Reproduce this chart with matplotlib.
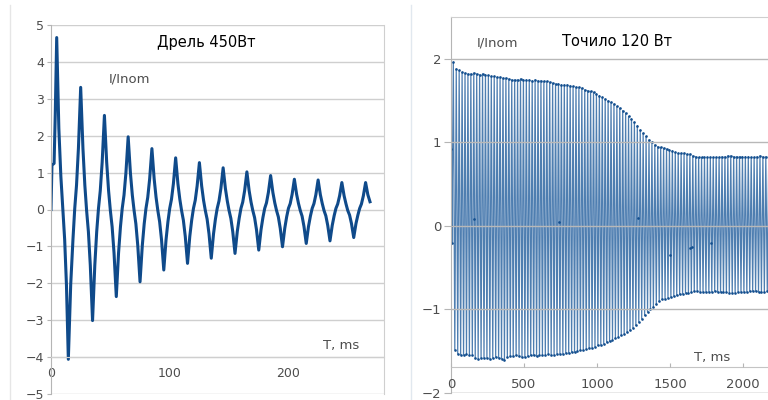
import numpy as np
import matplotlib
matplotlib.use("Agg")
import matplotlib.pyplot as plt
from matplotlib.lines import Line2D

# --- left chart: drill 450 W, I/Inom vs time (ms) ---
drill_t = [
    0.0, 0.8, 2.6, 3.6, 4.8, 6.6, 8.3, 10.0, 11.5, 13.0, 14.6, 16.6, 18.5,
    20.0, 21.5, 23.1, 25.0, 26.9, 28.5, 30.0, 31.5, 33.1, 35.0, 36.9, 38.5,
    40.0, 41.5, 43.1, 45.0, 46.9, 48.5, 50.0, 51.5, 53.1, 55.0, 56.9, 58.5,
    60.0, 61.5, 63.1, 65.0, 66.9, 68.5, 70.0, 71.5, 73.1, 75.0, 76.9, 78.5,
    80.0, 81.5, 83.1, 85.0, 86.9, 88.5, 90.0, 91.5, 93.1, 95.0, 96.9, 98.5,
    100.0, 101.5, 103.1, 105.0, 106.9, 108.5, 110.0, 111.5, 113.1, 115.0, 116.9, 118.5,
    120.0, 121.5, 123.1, 125.0, 126.9, 128.5, 130.0, 131.5, 133.1, 135.0, 136.9, 138.5,
    140.0, 141.5, 143.1, 145.0, 146.9, 148.5, 150.0, 151.5, 153.1, 155.0, 156.9, 158.5,
    160.0, 161.5, 163.1, 165.0, 166.9, 168.5, 170.0, 171.5, 173.1, 175.0, 176.9, 178.5,
    180.0, 181.5, 183.1, 185.0, 186.9, 188.5, 190.0, 191.5, 193.1, 195.0, 196.9, 198.5,
    200.0, 201.5, 203.1, 205.0, 206.9, 208.5, 210.0, 211.5, 213.1, 215.0, 216.9, 218.5,
    220.0, 221.5, 223.1, 225.0, 226.9, 228.5, 230.0, 231.5, 233.1, 235.0, 236.9, 238.5,
    240.0, 241.5, 243.1, 245.0, 246.9, 248.5, 250.0, 251.5, 253.1, 255.0, 256.9, 258.5,
    260.0, 261.5, 263.1, 265.0, 266.9, 268.7,
]
drill_i = [
    0.0, 1.2, 1.25, 2.6, 4.66, 2.2, 0.9, -0.03, -0.81, -2.03, -4.06, -2.03, -0.81,
    0.03, 0.66, 1.66, 3.31, 1.66, 0.66, -0.03, -0.60, -1.51, -3.01, -1.51, -0.60,
    0.03, 0.51, 1.28, 2.55, 1.28, 0.51, -0.03, -0.47, -1.18, -2.36, -1.18, -0.47,
    0.03, 0.39, 0.99, 1.97, 0.99, 0.39, -0.03, -0.39, -0.98, -1.96, -0.98, -0.39,
    0.03, 0.33, 0.83, 1.65, 0.83, 0.33, -0.03, -0.33, -0.82, -1.64, -0.82, -0.33,
    0.03, 0.28, 0.70, 1.40, 0.70, 0.28, -0.03, -0.29, -0.73, -1.46, -0.73, -0.29,
    0.03, 0.25, 0.64, 1.27, 0.64, 0.25, -0.03, -0.26, -0.66, -1.32, -0.66, -0.26,
    0.03, 0.23, 0.57, 1.13, 0.57, 0.23, -0.03, -0.24, -0.60, -1.19, -0.60, -0.24,
    0.03, 0.20, 0.51, 1.02, 0.51, 0.20, -0.03, -0.22, -0.55, -1.10, -0.55, -0.22,
    0.03, 0.18, 0.46, 0.92, 0.46, 0.18, -0.03, -0.20, -0.51, -1.01, -0.51, -0.20,
    0.03, 0.16, 0.41, 0.82, 0.41, 0.16, -0.03, -0.18, -0.46, -0.92, -0.46, -0.18,
    0.03, 0.16, 0.40, 0.80, 0.40, 0.16, -0.03, -0.17, -0.43, -0.85, -0.43, -0.17,
    0.03, 0.15, 0.37, 0.73, 0.37, 0.15, -0.03, -0.15, -0.38, -0.76, -0.38, -0.15,
    0.03, 0.15, 0.37, 0.73, 0.40, 0.21,
]
drill_xticks = [0, 100, 200]
drill_yticks = [-5, -4, -3, -2, -1, 0, 1, 2, 3, 4, 5]

# --- right chart: grinder 120 W, one max and one min per mains cycle ---
period_ms = 20.0
grinder_start_t = [0.0, 3.0, 6.0]
grinder_start_i = [0.0, 0.92, -0.2]
grinder_peaks = [
    1.96, 1.88, 1.86, 1.84, 1.83, 1.82, 1.82, 1.83, 1.82, 1.81,
    1.82, 1.81, 1.80, 1.79, 1.79, 1.78, 1.78, 1.77, 1.77, 1.76,
    1.75, 1.75, 1.75, 1.76, 1.75, 1.75, 1.75, 1.74, 1.75, 1.74,
    1.74, 1.73, 1.73, 1.72, 1.71, 1.70, 1.70, 1.69, 1.69, 1.69,
    1.68, 1.67, 1.66, 1.66, 1.65, 1.63, 1.62, 1.61, 1.60, 1.58,
    1.56, 1.54, 1.52, 1.50, 1.48, 1.46, 1.43, 1.41, 1.38, 1.35,
    1.31, 1.28, 1.24, 1.20, 1.15, 1.11, 1.07, 1.03, 1.00, 0.97,
    0.95, 0.94, 0.93, 0.92, 0.91, 0.90, 0.88, 0.87, 0.87, 0.87,
    0.86, 0.86, 0.84, 0.83, 0.82, 0.82, 0.82, 0.82, 0.82, 0.82,
    0.82, 0.82, 0.83, 0.83, 0.84, 0.84, 0.83, 0.83, 0.83, 0.83,
    0.83, 0.83, 0.82, 0.82, 0.83, 0.84, 0.83, 0.83, 0.83, 0.83,
]
grinder_troughs = [
    -1.48, -1.53, -1.54, -1.54, -1.53, -1.54, -1.54, -1.58, -1.59, -1.58,
    -1.58, -1.58, -1.59, -1.58, -1.57, -1.58, -1.59, -1.60, -1.57, -1.56,
    -1.56, -1.55, -1.56, -1.57, -1.57, -1.56, -1.55, -1.55, -1.56, -1.55,
    -1.54, -1.54, -1.53, -1.54, -1.54, -1.53, -1.53, -1.53, -1.52, -1.52,
    -1.51, -1.51, -1.50, -1.49, -1.48, -1.47, -1.46, -1.46, -1.45, -1.43,
    -1.42, -1.41, -1.39, -1.38, -1.36, -1.34, -1.33, -1.31, -1.29, -1.27,
    -1.25, -1.22, -1.19, -1.15, -1.11, -1.07, -1.03, -1.00, -0.97, -0.94,
    -0.90, -0.88, -0.87, -0.86, -0.85, -0.84, -0.83, -0.82, -0.81, -0.80,
    -0.80, -0.79, -0.78, -0.78, -0.79, -0.79, -0.79, -0.79, -0.79, -0.78,
    -0.79, -0.79, -0.79, -0.79, -0.80, -0.80, -0.80, -0.79, -0.79, -0.79,
    -0.79, -0.78, -0.78, -0.78, -0.79, -0.79, -0.79, -0.78, -0.77, -0.78,
]
grinder_stray_t = [157, 740, 1280, 1500, 1635, 1650, 1780]
grinder_stray_i = [0.08, 0.05, 0.10, -0.35, -0.27, -0.25, -0.20]
grinder_xticks = [0, 500, 1000, 1500, 2000]
grinder_yticks = [-2, -1, 0, 1, 2]

W, H = 768, 400
fig = plt.figure(figsize=(W / 100, H / 100), dpi=100)
fig.patch.set_facecolor("white")

navy = "#0f4a8a"
grid_c = "#cfcfcf"
label_c = "#4d4d4d"

# ---------------- left ----------------
ax1 = fig.add_axes([51 / W, 6 / H, 333 / W, 369 / H])
ax1.plot(drill_t, drill_i, color=navy, lw=2.2, solid_joinstyle="round")
ax1.set_xlim(0, 280.5)
ax1.set_ylim(-5, 5)
ax1.set_xticks(drill_xticks)
ax1.set_yticks(drill_yticks)
ax1.yaxis.grid(True, color=grid_c, lw=1.0)
ax1.set_axisbelow(True)
ax1.spines["top"].set_visible(False)
ax1.spines["right"].set_color(grid_c)
ax1.spines["left"].set_color("#b5b5b5")
ax1.spines["bottom"].set_position(("data", -4))
ax1.spines["bottom"].set_color(grid_c)
ax1.tick_params(axis="y", length=3, color="#b5b5b5", labelsize=9, labelcolor=label_c, pad=2)
ax1.tick_params(axis="x", length=0, labelsize=9, labelcolor=label_c, pad=7)

fig.text(206 / W, 1 - 43 / H, "Дрель 450Вт", fontsize=10.5, color="black", ha="center", va="center")
fig.text(129 / W, 1 - 79 / H, "I/Inom", fontsize=9.5, color=label_c, ha="center", va="center")
fig.text(341 / W, 1 - 345 / H, "T, ms", fontsize=9.5, color=label_c, ha="center", va="center")

# ---------------- right ----------------
ax2 = fig.add_axes([451 / W, 7 / H, (W - 451) / W, 376 / H])
n = len(grinder_peaks)
cycle_t = np.arange(n) * period_ms
t_all = np.empty(2 * n)
i_all = np.empty(2 * n)
t_all[0::2] = cycle_t + 16.0
t_all[1::2] = cycle_t + 26.0
i_all[0::2] = grinder_peaks
i_all[1::2] = grinder_troughs
t_all = np.concatenate([grinder_start_t, t_all])
i_all = np.concatenate([grinder_start_i, i_all])

ax2.plot(t_all, i_all, color="#2f67a3", lw=0.9, alpha=0.85)
ax2.plot(t_all, i_all, "o", ms=1.9, mew=0, color="#124e8e")
ax2.plot(grinder_stray_t, grinder_stray_i, "o", ms=1.9, mew=0, color="#124e8e")
ax2.set_xlim(0, 2171)
ax2.set_ylim(-2, 2.5)
ax2.set_xticks(grinder_xticks)
ax2.set_yticks(grinder_yticks)
ax2.yaxis.grid(True, color="#b8b8b8", lw=1.0)
ax2.set_axisbelow(False)
ax2.spines["right"].set_visible(False)
ax2.spines["top"].set_color(grid_c)
ax2.spines["left"].set_color("#b5b5b5")
ax2.spines["bottom"].set_position(("data", -1.69))
ax2.spines["bottom"].set_color("#c4c4c4")
ax2.tick_params(axis="y", length=5, color="#b5b5b5", labelsize=9.5, labelcolor=label_c, pad=2)
ax2.tick_params(axis="x", direction="in", length=3, color="#b5b5b5", labelsize=9.5,
                labelcolor=label_c, pad=8)
ax2.add_line(Line2D([0, 1], [0, 0], transform=ax2.transAxes, color=grid_c, lw=1.0))

fig.text(498 / W, 1 - 43 / H, "I/Inom", fontsize=9.5, color=label_c, ha="center", va="center")
fig.text(617 / W, 1 - 41 / H, "Точило 120 Вт", fontsize=10.5, color="black", ha="center", va="center")
fig.text(712 / W, 1 - 357 / H, "T, ms", fontsize=9.5, color=label_c, ha="center", va="center")

# screenshot borders
fig.add_artist(Line2D([10 / W, 10 / W], [0, 1 - 5 / H], color="#e6e6e6", lw=1.0))
fig.add_artist(Line2D([411 / W, 411 / W], [0, 1 - 5 / H], color="#e1e8ef", lw=1.0))

fig.savefig("out.png", dpi=100)
